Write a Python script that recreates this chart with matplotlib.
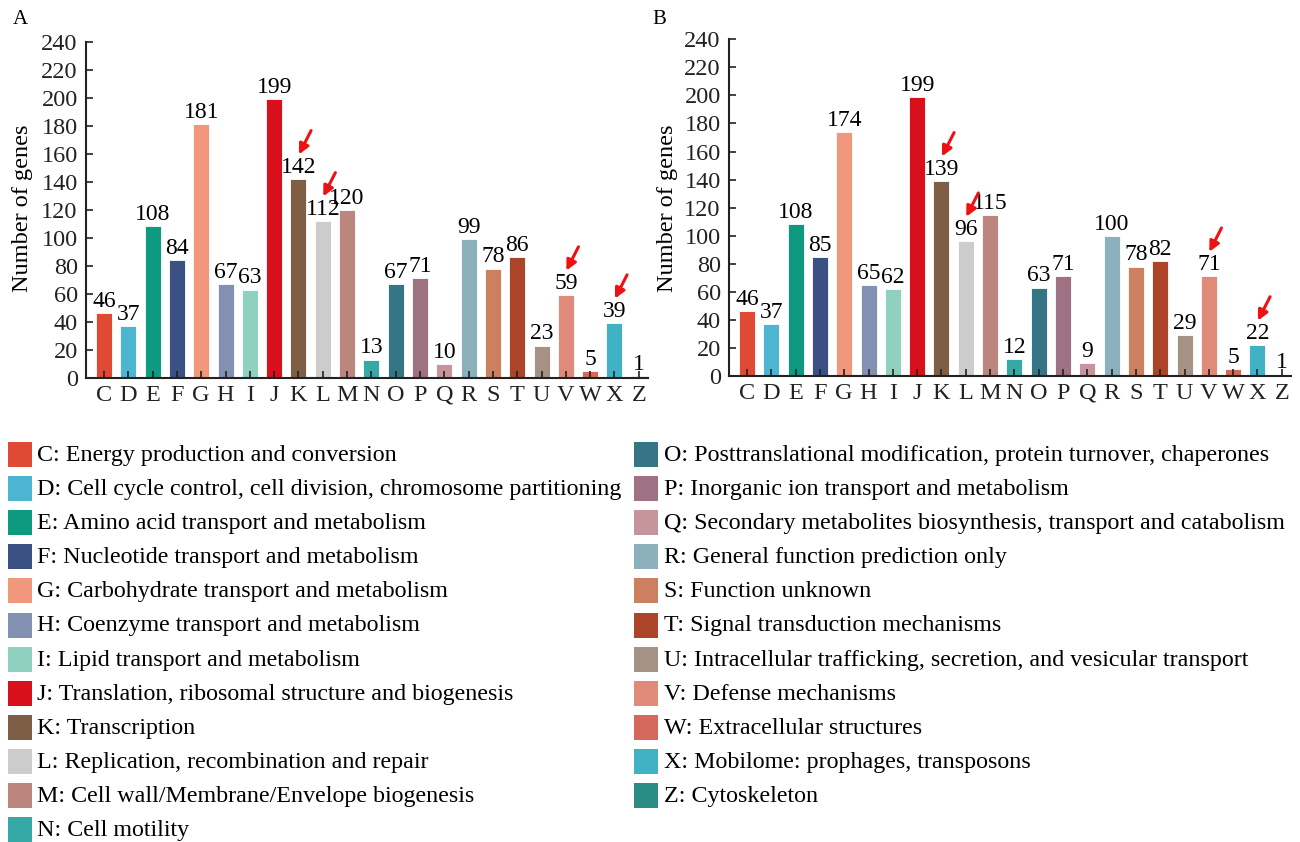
import matplotlib
matplotlib.use("Agg")
import matplotlib.pyplot as plt
from matplotlib.patches import Rectangle

plt.rcParams['font.family'] = ['Liberation Serif', 'DejaVu Serif']

# COG functional categories
categories = ['C', 'D', 'E', 'F', 'G', 'H', 'I', 'J', 'K', 'L', 'M', 'N',
              'O', 'P', 'Q', 'R', 'S', 'T', 'U', 'V', 'W', 'X', 'Z']

descriptions = [
    "Energy production and conversion",
    "Cell cycle control, cell division, chromosome partitioning",
    "Amino acid transport and metabolism",
    "Nucleotide transport and metabolism",
    "Carbohydrate transport and metabolism",
    "Coenzyme transport and metabolism",
    "Lipid transport and metabolism",
    "Translation, ribosomal structure and biogenesis",
    "Transcription",
    "Replication, recombination and repair",
    "Cell wall/Membrane/Envelope biogenesis",
    "Cell motility",
    "Posttranslational modification, protein turnover, chaperones",
    "Inorganic ion transport and metabolism",
    "Secondary metabolites biosynthesis, transport and catabolism",
    "General function prediction only",
    "Function unknown",
    "Signal transduction mechanisms",
    "Intracellular trafficking, secretion, and vesicular transport",
    "Defense mechanisms",
    "Extracellular structures",
    "Mobilome: prophages, transposons",
    "Cytoskeleton",
]

counts_a = [46, 37, 108, 84, 181, 67, 63, 199, 142, 112, 120, 13,
            67, 71, 10, 99, 78, 86, 23, 59, 5, 39, 1]
counts_b = [46, 37, 108, 85, 174, 65, 62, 199, 139, 96, 115, 12,
            63, 71, 9, 100, 78, 82, 29, 71, 5, 22, 1]

# categories flagged with an arrow in each panel
flagged = ['K', 'L', 'V', 'X']

colors = ['#E04A34', '#4DB5D2', '#0E9A80', '#3B5184', '#F0977C', '#8290B2',
          '#90D0BE', '#D7101B', '#7E5E45', '#CCCCCC', '#BA867E', '#36A8A6',
          '#367586', '#9E7183', '#C6959C', '#8CB0BC', '#CC805F', '#AB4428',
          '#A59285', '#E08B7A', '#D4685A', '#40B2C4', '#2A8C84']

W, H = 1300, 842
fig = plt.figure(figsize=(W / 100, H / 100), dpi=100)


def px_rect(left, top, right, bottom):
    return [left / W, 1 - bottom / H, (right - left) / W, (bottom - top) / H]


def draw_panel(rect, counts, letter, letter_xy, ylabel_x):
    ax = fig.add_axes(rect)
    x = list(range(len(categories)))
    ax.bar(x, counts, width=0.66, color=colors, edgecolor='white', linewidth=0.6)
    for i, v in enumerate(counts):
        ax.text(i, v + 0.8, str(v), ha='center', va='bottom', fontsize=17)
    for c in flagged:
        i = categories.index(c)
        v = counts[i]
        ax.annotate('', xy=(i + 0.02, v + 17.5), xytext=(i + 0.52, v + 34.5),
                    arrowprops=dict(arrowstyle='-|>', color='#EE1111', lw=2.2,
                                    mutation_scale=15, shrinkA=0, shrinkB=0))
    ax.set_xlim(-0.74, len(categories) - 1 + 0.38)
    ax.set_ylim(0, 240)
    ax.set_yticks(range(0, 241, 20))
    ax.set_xticks(x)
    ax.set_xticklabels(categories)
    ax.tick_params(axis='both', direction='in', length=5, width=1.2,
                   labelsize=17.5, colors='#222222')
    ax.tick_params(axis='x', pad=5)
    ax.tick_params(axis='y', pad=6)
    for s in ['top', 'right']:
        ax.spines[s].set_visible(False)
    for s in ['left', 'bottom']:
        ax.spines[s].set_linewidth(1.5)
        ax.spines[s].set_color('#222222')
    fig.text(ylabel_x / W, 1 - 208 / H, 'Number of genes', rotation=90,
             ha='center', va='center', fontsize=17.5)
    fig.text(letter_xy[0] / W, 1 - letter_xy[1] / H, letter,
             ha='center', va='center', fontsize=15)
    return ax


draw_panel(px_rect(86, 41.7, 648, 377.7), counts_a, 'A', (20, 20), 23)
draw_panel(px_rect(729, 39.3, 1291, 376), counts_b, 'B', (659, 19), 667)

# category key below the panels, two columns
row_h = 34.1
n_left = 12
for k, (c, d, col) in enumerate(zip(categories, descriptions, colors)):
    if k < n_left:
        sq_x, tx, row = 8, 37, k
    else:
        sq_x, tx, row = 634, 664, k - n_left
    yc = 454.5 + row * row_h
    fig.patches.append(Rectangle((sq_x / W, 1 - (yc + 12.5) / H), 24 / W, 25 / H,
                                 transform=fig.transFigure, facecolor=col,
                                 edgecolor='none'))
    fig.text(tx / W, 1 - (yc + 1) / H, f"{c}: {d}", ha='left', va='center',
             fontsize=17.3)

fig.savefig('out.png', dpi=100)
